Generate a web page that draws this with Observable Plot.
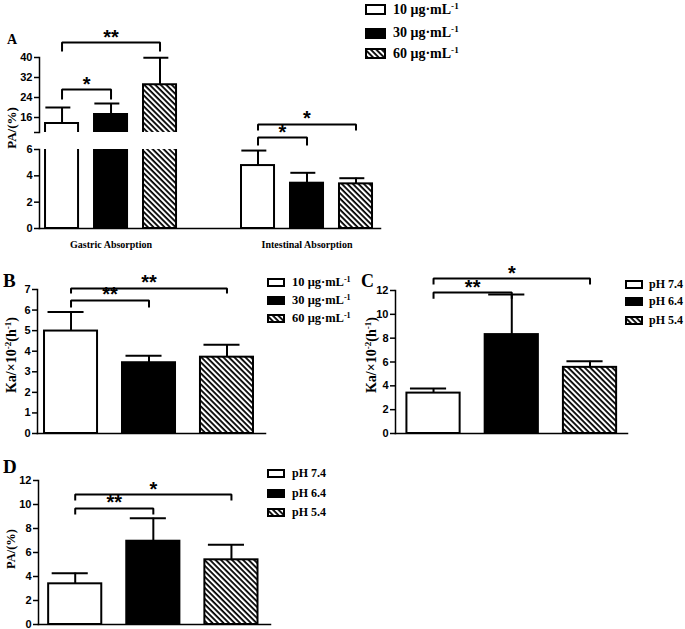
<!DOCTYPE html>
<html>
<head>
<meta charset="utf-8">
<script src="https://cdn.jsdelivr.net/npm/d3@7"></script>
<script src="https://cdn.jsdelivr.net/npm/@observablehq/plot@0.6"></script>
<style>
  body { margin: 0; background: #fff; }
  #fig { position: relative; width: 685px; height: 629px; overflow: hidden; background: #fff; }
  #fig svg.plotsvg { position: absolute; }
  #fig svg.plotsvg g[aria-label="y-axis tick label"] { font-weight: bold; }
  .letter { position: absolute; font-family: "Liberation Serif", "Times New Roman", serif; font-weight: bold; line-height: 1; color: #000; }
  .ylab { position: absolute; font-family: "Liberation Serif", "Times New Roman", serif; font-weight: bold; white-space: nowrap; line-height: 1; transform: translate(-50%, -50%) rotate(-90deg); color: #000; }
  .ylab sup, .legrow sup { font-size: 0.65em; vertical-align: 0.5em; line-height: 0; }
  .legrow { position: absolute; display: flex; align-items: center; height: 16px; font-family: "Liberation Serif", "Times New Roman", serif; font-weight: bold; white-space: nowrap; color: #000; }
  .legrow svg { display: block; flex: none; }
</style>
</head>
<body>
<svg width="0" height="0" style="position:absolute">
  <defs>
    <pattern id="hatch" patternUnits="userSpaceOnUse" width="3.9" height="3.9" patternTransform="rotate(45)">
      <rect width="3.9" height="3.9" fill="white"></rect>
      <rect width="3.9" height="1.8" fill="black"></rect>
    </pattern>
  </defs>
</svg>
<div id="fig"></div>
<script>
// ---------------- data ----------------
const concentrations = ["10 μg·mL", "30 μg·mL", "60 μg·mL"];   // each followed by superscript -1
const phLevels = ["pH 7.4", "pH 6.4", "pH 5.4"];
const sites = ["Gastric Absorption", "Intestinal Absorption"];

const gastricPA = [13.6, 17.2, 29.1];
const gastricSD = [6.4, 4.4, 10.8];
const intestinalPA = [4.78, 3.44, 3.39];
const intestinalSD = [1.14, 0.79, 0.43];

const kaConc = [4.98, 3.44, 3.71];
const kaConcSD = [0.93, 0.34, 0.61];

const kaPH = [3.39, 8.30, 5.55];
const kaPHSD = [0.39, 3.36, 0.51];

const paPH = [3.39, 6.94, 5.39];
const paPHSD = [0.89, 1.92, 1.25];

const ticksAUpper = [10, 16, 24, 32, 40];
const ticksALower = [0, 2, 4, 6];
const ticksB = [0, 1, 2, 3, 4, 5, 6, 7];
const ticksCD = [0, 2, 4, 6, 8, 10, 12];

// significance brackets: from bar a to bar b, horizontal at "level", ends dropping to "end"
const sigGastric = [
  {a: 0, b: 1, level: 27.2, end: 23.2, label: "*"},
  {a: 0, b: 2, level: 46.0, end: 42.4, label: "**"}
];
const sigIntestinal = [
  {a: 0, b: 1, level: 6.91, end: 6.30, label: "*"},
  {a: 0, b: 2, level: 7.90, end: 7.44, label: "*"}
];
const sigB = [
  {a: 0, b: 1, level: 6.47, end: 6.13, label: "**"},
  {a: 0, b: 2, level: 7.05, end: 6.80, label: "**"}
];
const sigC = [
  {a: 0, b: 1, level: 11.83, end: 11.30, label: "**"},
  {a: 0, b: 2, level: 13.00, end: 12.50, label: "*"}
];
const sigD = [
  {a: 0, b: 1, level: 9.67, end: 9.17, label: "**"},
  {a: 0, b: 2, level: 10.83, end: 10.33, label: "*"}
];

// ---------------- helpers ----------------
const seriesFill = ["white", "black", "url(#hatch)"];
const fig = document.getElementById("fig");

function rowsOf(means, sds, offset = 0) {
  return means.map((m, i) => ({pos: i + offset, mean: m, sd: sds[i], fill: seriesFill[i]}));
}
function bracketPoints(comps, offset = 0) {
  return comps.flatMap((c, k) => [
    {id: k, x: c.a + offset, y: c.end},
    {id: k, x: c.a + offset, y: c.level},
    {id: k, x: c.b + offset, y: c.level},
    {id: k, x: c.b + offset, y: c.end}
  ]);
}
function barsMarks(rows, half, clip) {
  return Plot.rectY(rows, {x1: d => d.pos - half, x2: d => d.pos + half, y1: 0, y2: "mean",
    fill: "fill", stroke: "black", strokeWidth: 2, clip});
}
function errorMarks(rows, capL, capR) {
  return [
    Plot.ruleX(rows, {x: "pos", y1: "mean", y2: d => d.mean + d.sd, stroke: "black", strokeWidth: 2}),
    Plot.ruleY(rows, {x1: d => d.pos - capL, x2: d => d.pos + capR, y: d => d.mean + d.sd, stroke: "black", strokeWidth: 2})
  ];
}
function sigMarks(comps, offset = 0) {
  return [
    Plot.line(bracketPoints(comps, offset), {x: "x", y: "y", z: "id", stroke: "black", strokeWidth: 2, strokeLinejoin: "miter", strokeLinecap: "butt"}),
    Plot.text(comps, {x: d => (d.a + d.b) / 2 + offset, y: "level", text: "label", lineAnchor: "bottom", dy: 1,
      fontSize: 20, fontWeight: "bold", fontFamily: "Liberation Sans, Arial, sans-serif", fill: "black"})
  ];
}
function yAxis(ticks, fmt) {
  return Plot.axisY({ticks, tickFormat: fmt || (d => d), tickSize: 5, tickPadding: 2, strokeWidth: 1.5, label: null,
    fontSize: 11, fontWeight: "bold", fontFamily: "Liberation Sans, Arial, sans-serif", fill: "black"});
}
const axisStyle = {background: "transparent", overflow: "visible", fontFamily: "Liberation Sans, Arial, sans-serif", fontSize: "11px", fontWeight: "bold", color: "black"};

function place(svg, left, top) {
  svg.classList.add("plotsvg");
  svg.style.left = left + "px";
  svg.style.top = top + "px";
  fig.appendChild(svg);
}

// ---------------- Panel A ----------------
const gastricRows = rowsOf(gastricPA, gastricSD, 0);
const intestinalRows = rowsOf(intestinalPA, intestinalSD, 4);
const xDomA = [-0.46, 6.5];

const aUpper = Plot.plot({
  width: 380, height: 132, marginLeft: 39, marginRight: 0, marginTop: 57, marginBottom: 0,
  x: {domain: xDomA, axis: null},
  y: {domain: [10, 40], axis: null},
  color: {type: "identity"},
  style: axisStyle,
  marks: [
    barsMarks(gastricRows, 0.337, true),
    errorMarks(gastricRows, 0.33, 0.18),
    yAxis(ticksAUpper, d => d === 10 ? "" : d),
    Plot.frame({anchor: "left", strokeWidth: 1.5}),
    sigMarks(sigGastric, 0)
  ]
});
place(aUpper, 0, 0);

const aLower = Plot.plot({
  width: 380, height: 160, marginLeft: 39, marginRight: 0, marginTop: 49, marginBottom: 32,
  x: {domain: xDomA, axis: null},
  y: {domain: [0, 6], axis: null},
  color: {type: "identity"},
  style: axisStyle,
  marks: [
    barsMarks(gastricRows.concat(intestinalRows), 0.337, true),
    errorMarks(intestinalRows, 0.33, 0.18),
    yAxis(ticksALower),
    Plot.frame({anchor: "left", strokeWidth: 1.5}),
    Plot.frame({anchor: "bottom", strokeWidth: 1.5}),
    sigMarks(sigIntestinal, 4),
    Plot.text(sites, {x: (d, i) => i * 4 + 1, frameAnchor: "bottom", dy: 19, text: d => d,
      fontFamily: "Liberation Serif, Times New Roman, serif", fontSize: 10, fontWeight: "bold", fill: "black"})
  ]
});
place(aLower, 0, 100);

// ---------------- Panel B ----------------
const bRows = rowsOf(kaConc, kaConcSD);
const bChart = Plot.plot({
  width: 265, height: 175, marginLeft: 37, marginRight: 0, marginTop: 24, marginBottom: 7,
  x: {domain: [-0.43, 2.494], axis: null},
  y: {domain: [0, 7], axis: null},
  color: {type: "identity"},
  style: axisStyle,
  marks: [
    barsMarks(bRows, 0.34, false),
    errorMarks(bRows, 0.295, 0.167),
    yAxis(ticksB),
    Plot.frame({anchor: "left", strokeWidth: 1.5}),
    Plot.frame({anchor: "bottom", strokeWidth: 1.5}),
    sigMarks(sigB)
  ]
});
place(bChart, 0, 265);

// ---------------- Panel C ----------------
const cRows = rowsOf(kaPH, kaPHSD);
const cChart = Plot.plot({
  width: 287, height: 175, marginLeft: 55, marginRight: 0, marginTop: 25, marginBottom: 7,
  x: {domain: [-0.486, 2.479], axis: null},
  y: {domain: [0, 12], axis: null},
  color: {type: "identity"},
  style: axisStyle,
  marks: [
    barsMarks(cRows, 0.34, false),
    errorMarks(cRows, 0.295, 0.167),
    yAxis(ticksCD),
    Plot.frame({anchor: "left", strokeWidth: 1.5}),
    Plot.frame({anchor: "bottom", strokeWidth: 1.5}),
    sigMarks(sigC)
  ]
});
place(cChart, 340, 265);

// ---------------- Panel D ----------------
const dRows = rowsOf(paPH, paPHSD);
const dChart = Plot.plot({
  width: 270, height: 159, marginLeft: 38, marginRight: 0, marginTop: 10, marginBottom: 5,
  x: {domain: [-0.47, 2.5], axis: null},
  y: {domain: [0, 12], axis: null},
  color: {type: "identity"},
  style: axisStyle,
  marks: [
    barsMarks(dRows, 0.34, false),
    errorMarks(dRows, 0.295, 0.167),
    yAxis(ticksCD),
    Plot.frame({anchor: "left", strokeWidth: 1.5}),
    Plot.frame({anchor: "bottom", strokeWidth: 1.5}),
    sigMarks(sigD)
  ]
});
place(dChart, 0, 470);

// ---------------- text: letters, y labels, legends ----------------
function addLetter(t, left, top, size) {
  const el = document.createElement("div");
  el.className = "letter";
  el.textContent = t;
  el.style.left = left + "px"; el.style.top = top + "px"; el.style.fontSize = size + "px";
  fig.appendChild(el);
}
addLetter("A", 7, 33, 14);
addLetter("B", 3, 271, 19);
addLetter("C", 361, 272, 18);
addLetter("D", 3, 457, 19);

function addYLabel(html, cx, cy, size) {
  const el = document.createElement("div");
  el.className = "ylab";
  el.innerHTML = html;
  el.style.left = cx + "px"; el.style.top = cy + "px"; el.style.fontSize = size + "px";
  fig.appendChild(el);
}
addYLabel("PA/(%)", 11, 128, 13);
addYLabel("Ka/×10<sup>-2</sup>(h<sup>-1</sup>)", 12, 355, 14);
addYLabel("Ka/×10<sup>-2</sup>(h<sup>-1</sup>)", 372, 355, 14);
addYLabel("PA/(%)", 11, 549, 12.5);

function swatch(fill, w, h) {
  const ns = "http://www.w3.org/2000/svg";
  const s = document.createElementNS(ns, "svg");
  s.setAttribute("width", w); s.setAttribute("height", h);
  const r = document.createElementNS(ns, "rect");
  r.setAttribute("x", 1); r.setAttribute("y", 1);
  r.setAttribute("width", w - 2); r.setAttribute("height", h - 2);
  r.setAttribute("fill", fill); r.setAttribute("stroke", "black"); r.setAttribute("stroke-width", 2);
  s.appendChild(r);
  return s;
}
function addLegend(labels, withSup, left, centers, boxW, boxH, gap, size) {
  labels.forEach((lab, i) => {
    const row = document.createElement("div");
    row.className = "legrow";
    row.style.left = left + "px";
    row.style.top = (centers[i] - 8) + "px";
    row.style.fontSize = size + "px";
    row.appendChild(swatch(seriesFill[i], boxW, boxH));
    const t = document.createElement("span");
    t.style.marginLeft = gap + "px";
    t.innerHTML = lab + (withSup ? "<sup>-1</sup>" : "");
    row.appendChild(t);
    fig.appendChild(row);
  });
}
addLegend(concentrations, true, 365, [9.5, 33, 53.5], 21, 11, 7, 14);
addLegend(concentrations, true, 267, [282, 300, 318], 18, 9, 7, 12.5);
addLegend(phLevels, false, 625, [284, 301.5, 320], 18, 9, 6, 12);
addLegend(phLevels, false, 267, [473, 493, 512], 18, 9, 7, 12);
</script>
</body>
</html>
